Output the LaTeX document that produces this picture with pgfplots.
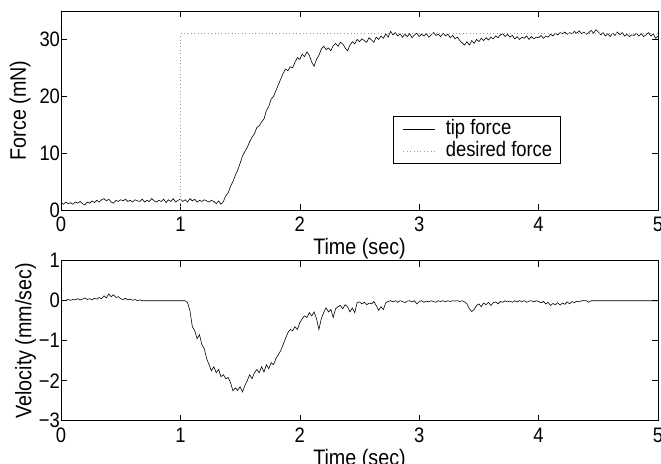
\documentclass[border=0pt]{standalone}
\usepackage{fontspec}
\setmainfont{Liberation Sans}[FakeStretch=0.88]
\usepackage{pgfplots}
\pgfplotsset{compat=1.18}
\pgfplotsset{
  mystyle/.style={
    scale only axis,
    width=597bp,
    xmin=0, xmax=5,
    xtick={0,1,2,3,4,5},
    axis line style={line width=0.6bp},
    every tick/.style={line width=0.5bp, black},
    major tick length=6bp,
    tick align=inside,
    font=\fontsize{22.5}{25}\selectfont,
    tick label style={font=\fontsize{21}{23}\selectfont},
    /pgf/number format/assume math mode=true,
    xticklabel style={anchor=base, yshift=-22bp},
    yticklabel style={xshift=2.5bp},
    xlabel={Time (sec)},
    xlabel style={at={(axis description cs:0.5,0)}, anchor=base, yshift=-44.5bp},
  }
}
\begin{document}
\begin{tikzpicture}
\useasboundingbox (0,0) rectangle (661bp,464bp);
\begin{axis}[mystyle,
  at={(61bp,254bp)}, anchor=south west,
  height=199bp,
  ymin=0, ymax=35,
  ytick={0,10,20,30},
  ylabel={Force (mN)},
  ylabel style={at={(axis description cs:-0.0687,0.5)}, anchor=center, rotate=0},
  legend style={at={(axis description cs:0.556,0.472)}, anchor=north west,
    draw=black, line width=0.5bp,
    nodes={font=\fontsize{21}{23}\selectfont, inner xsep=4bp, inner ysep=1bp, text height=15.5bp, text depth=4.5bp},
    inner xsep=4bp, inner ysep=1.5bp, row sep=0bp, column sep=6bp,
    legend image code/.code={\path (0bp,0bp); \draw[#1] (6bp,0bp) -- (38bp,0bp);}},
  legend cell align=left,
]
\addplot[black, line width=0.6bp] coordinates {
(0.00,1.3) (0.02,1.0) (0.04,1.4) (0.06,1.1) (0.08,1.3) (0.10,1.0) (0.12,1.4) (0.14,1.2) (0.16,1.5) (0.18,1.1)
(0.20,0.9) (0.22,1.4) (0.24,1.2) (0.26,1.6) (0.28,1.3) (0.30,1.7) (0.32,1.4) (0.34,1.8) (0.36,2.0) (0.38,1.6)
(0.40,1.9) (0.42,1.4) (0.44,1.2) (0.46,1.7) (0.48,1.5) (0.50,1.8) (0.52,1.6) (0.54,1.9) (0.56,1.5) (0.58,1.7)
(0.60,1.4) (0.62,1.8) (0.64,1.6) (0.66,1.5) (0.68,1.9) (0.70,1.4) (0.72,1.7) (0.74,1.5) (0.76,2.0) (0.78,1.6)
(0.80,1.4) (0.82,1.7) (0.84,1.5) (0.86,1.9) (0.88,1.3) (0.90,1.8) (0.92,1.5) (0.94,2.0) (0.96,1.4) (0.98,1.7)
(1.00,1.9) (1.02,1.5) (1.04,1.8) (1.06,1.4) (1.08,2.0) (1.10,1.6) (1.12,1.9) (1.14,1.4) (1.16,1.7) (1.18,1.5)
(1.20,1.8) (1.22,1.6) (1.24,1.4) (1.26,1.7) (1.28,1.5) (1.30,1.1) (1.32,1.6) (1.34,1.0) (1.36,1.5) (1.38,2.5)
(1.40,3.0) (1.42,4.2) (1.44,5.0) (1.46,6.1) (1.48,7.0) (1.50,8.2) (1.52,9.5) (1.54,10.3) (1.56,11.0) (1.58,12.0)
(1.60,12.8) (1.62,13.4) (1.64,14.5) (1.66,14.8) (1.68,15.5) (1.70,16.0) (1.72,17.5) (1.74,18.2) (1.76,19.5) (1.78,20.0)
(1.80,21.0) (1.82,22.0) (1.84,23.0) (1.86,24.0) (1.88,24.8) (1.90,24.5) (1.92,25.2) (1.94,25.0) (1.96,26.0) (1.98,26.8)
(2.00,26.5) (2.02,27.4) (2.04,27.0) (2.06,27.8) (2.08,27.2) (2.10,26.0) (2.12,25.3) (2.14,26.5) (2.16,27.2) (2.18,28.3)
(2.20,28.8) (2.22,28.2) (2.24,28.5) (2.26,28.0) (2.28,28.9) (2.30,29.3) (2.32,28.8) (2.34,29.5) (2.36,29.2) (2.38,28.5)
(2.40,28.0) (2.42,29.0) (2.44,29.6) (2.46,29.2) (2.48,30.0) (2.50,29.6) (2.52,30.1) (2.54,29.8) (2.56,29.5) (2.58,30.3)
(2.60,29.9) (2.62,29.5) (2.64,30.4) (2.66,30.0) (2.68,30.6) (2.70,30.2) (2.72,31.0) (2.74,30.4) (2.76,31.4) (2.78,30.8)
(2.80,31.2) (2.82,30.6) (2.84,31.0) (2.86,30.4) (2.88,30.9) (2.90,30.5) (2.92,31.0) (2.94,30.3) (2.96,30.8) (2.98,31.1)
(3.00,30.5) (3.02,30.9) (3.04,30.6) (3.06,31.0) (3.08,30.4) (3.10,30.8) (3.12,31.2) (3.14,30.7) (3.16,30.9) (3.18,30.5)
(3.20,31.1) (3.22,30.6) (3.24,30.9) (3.26,30.3) (3.28,30.7) (3.30,30.1) (3.32,30.4) (3.34,29.8) (3.36,29.4) (3.38,29.0)
(3.40,29.6) (3.42,29.0) (3.44,29.8) (3.46,29.3) (3.48,30.0) (3.50,29.6) (3.52,30.2) (3.54,29.8) (3.56,30.3) (3.58,29.9)
(3.60,30.4) (3.62,30.1) (3.64,30.6) (3.66,30.3) (3.68,30.8) (3.70,31.0) (3.72,30.5) (3.74,30.9) (3.76,30.4) (3.78,30.7)
(3.80,30.1) (3.82,30.5) (3.84,30.0) (3.86,30.4) (3.88,30.2) (3.90,30.6) (3.92,30.0) (3.94,30.5) (3.96,30.1) (3.98,30.4)
(4.00,30.3) (4.02,30.7) (4.04,30.2) (4.06,30.6) (4.08,30.4) (4.10,30.9) (4.12,30.6) (4.14,31.1) (4.16,30.8) (4.18,31.2)
(4.20,31.0) (4.22,31.3) (4.24,30.9) (4.26,31.2) (4.28,31.0) (4.30,31.4) (4.32,31.1) (4.34,31.5) (4.36,31.0) (4.38,31.3)
(4.40,30.9) (4.42,31.2) (4.44,31.6) (4.46,31.1) (4.48,31.7) (4.50,31.3) (4.52,30.8) (4.54,31.2) (4.56,30.6) (4.58,31.0)
(4.60,30.5) (4.62,31.1) (4.64,30.7) (4.66,31.3) (4.68,30.8) (4.70,31.2) (4.72,30.6) (4.74,30.9) (4.76,30.5) (4.78,30.8)
(4.80,30.7) (4.82,31.1) (4.84,30.6) (4.86,31.0) (4.88,30.5) (4.90,30.8) (4.92,31.2) (4.94,30.6) (4.96,31.0) (4.98,30.2)
(5.00,30.6)
};
\addlegendentry{tip force}
\addplot[gray!80, line width=0.6bp, dash pattern=on 0.8bp off 2.6bp] coordinates {
(0,0) (1,0) (1,31) (5,31)
};
\addlegendentry{desired force}
\end{axis}
\begin{axis}[mystyle,
  at={(61bp,43.3bp)}, anchor=south west,
  height=160bp,
  ymin=-3, ymax=1,
  ytick={-3,-2,-1,0,1},
  yticklabels={−3,−2,−1,0,1},
  ylabel={Velocity (mm/sec)},
  ylabel style={at={(axis description cs:-0.0595,0.5)}, anchor=center, rotate=0},
]
\addplot[black, line width=0.6bp] coordinates {
(0.00,0.00) (0.02,0.00) (0.04,0.01) (0.06,0.03) (0.08,0.01) (0.10,0.03) (0.12,0.02) (0.14,0.05) (0.16,0.02) (0.18,0.04)
(0.20,0.07) (0.22,0.03) (0.24,0.05) (0.26,0.02) (0.28,0.06) (0.30,0.04) (0.32,0.08) (0.34,0.05) (0.36,0.12) (0.38,0.07)
(0.40,0.17) (0.42,0.10) (0.44,0.15) (0.46,0.08) (0.48,0.10) (0.50,0.05) (0.52,0.03) (0.54,0.06) (0.56,0.02) (0.58,0.04)
(0.60,0.01) (0.62,0.03) (0.64,0.00) (0.66,0.02) (0.68,0.00) (1.04,0.00) (1.06,-0.05) (1.08,-0.25) (1.10,-0.65) (1.12,-0.75)
(1.14,-0.95) (1.16,-0.85) (1.18,-1.10) (1.20,-1.20) (1.22,-1.45) (1.24,-1.60) (1.26,-1.75) (1.28,-1.65) (1.30,-1.80) (1.32,-1.72)
(1.34,-1.90) (1.36,-1.85) (1.38,-1.95) (1.40,-1.92) (1.42,-2.05) (1.44,-2.25) (1.46,-2.18) (1.48,-2.24) (1.50,-2.15) (1.52,-2.28)
(1.54,-2.12) (1.56,-2.00) (1.58,-1.85) (1.60,-1.95) (1.62,-1.80) (1.64,-1.72) (1.66,-1.80) (1.68,-1.65) (1.70,-1.78) (1.72,-1.60)
(1.74,-1.70) (1.76,-1.55) (1.78,-1.60) (1.80,-1.45) (1.82,-1.35) (1.84,-1.25) (1.86,-1.10) (1.88,-0.95) (1.90,-0.80) (1.92,-0.72)
(1.94,-0.75) (1.96,-0.65) (1.98,-0.72) (2.00,-0.55) (2.02,-0.45) (2.04,-0.38) (2.06,-0.42) (2.08,-0.30) (2.10,-0.38) (2.12,-0.28)
(2.14,-0.45) (2.16,-0.72) (2.18,-0.45) (2.20,-0.30) (2.22,-0.18) (2.24,-0.28) (2.26,-0.22) (2.28,-0.42) (2.30,-0.20) (2.32,-0.15)
(2.34,-0.12) (2.36,-0.20) (2.38,-0.10) (2.40,-0.15) (2.42,-0.28) (2.44,-0.18) (2.46,-0.30) (2.48,-0.05) (2.50,-0.03) (2.52,-0.08)
(2.54,-0.04) (2.56,-0.10) (2.58,-0.06) (2.60,-0.08) (2.62,-0.02) (2.64,-0.12) (2.66,-0.24) (2.68,-0.15) (2.70,-0.22) (2.72,-0.05)
(2.74,-0.02) (2.76,0.00) (2.78,-0.03) (2.80,0.00) (2.82,-0.04) (2.84,0.00) (2.86,-0.02) (2.88,-0.05) (2.90,-0.01) (2.92,0.00)
(2.94,-0.03) (2.96,0.00) (2.98,-0.08) (3.00,-0.02) (3.02,0.00) (3.04,-0.04) (3.06,-0.01) (3.08,-0.03) (3.10,0.00) (3.12,-0.02)
(3.14,-0.04) (3.16,0.00) (3.18,-0.02) (3.20,0.00) (3.22,-0.03) (3.24,0.00) (3.26,-0.02) (3.28,0.00) (3.30,-0.01) (3.32,0.00)
(3.34,-0.02) (3.36,0.00) (3.38,-0.03) (3.40,-0.08) (3.42,-0.20) (3.44,-0.27) (3.46,-0.22) (3.48,-0.12) (3.50,-0.08) (3.52,-0.15)
(3.54,-0.06) (3.56,-0.10) (3.58,-0.04) (3.60,-0.12) (3.62,-0.05) (3.64,-0.03) (3.66,-0.08) (3.68,-0.02) (3.70,-0.04) (3.72,0.00)
(3.74,-0.03) (3.76,-0.01) (3.78,-0.04) (3.80,0.00) (3.82,-0.03) (3.84,0.00) (3.86,-0.02) (3.88,0.00) (3.90,-0.04) (3.92,-0.01)
(3.94,0.00) (3.96,-0.03) (3.98,0.00) (4.00,-0.02) (4.02,-0.05) (4.04,-0.02) (4.06,-0.08) (4.08,-0.04) (4.10,-0.12) (4.12,-0.07)
(4.14,-0.10) (4.16,-0.05) (4.18,-0.11) (4.20,-0.06) (4.22,-0.09) (4.24,-0.03) (4.26,-0.08) (4.28,-0.02) (4.30,-0.05) (4.32,-0.01)
(4.34,-0.03) (4.36,0.00) (4.40,0.00) (4.42,-0.04) (4.44,0.00) (5.00,0.00)
};
\end{axis}
\end{tikzpicture}
\end{document}
